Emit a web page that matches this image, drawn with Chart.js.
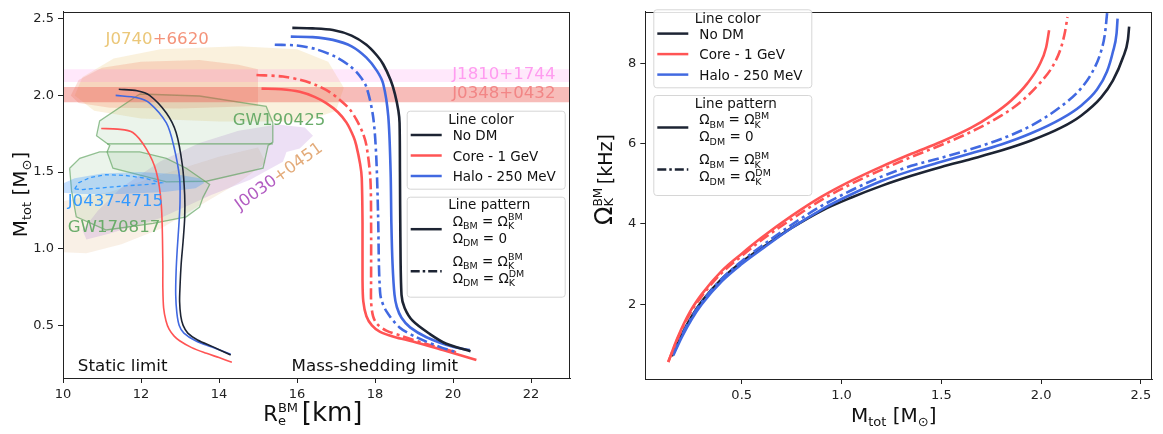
<!DOCTYPE html>
<html>
<head>
<meta charset="utf-8">
<script src="https://cdn.jsdelivr.net/npm/chart.js@4.4.0/dist/chart.umd.min.js"></script>
<style>
  html, body { margin: 0; padding: 0; background: #fff; }
  #wrap { position: relative; width: 1163px; height: 434px; }
  #left { position: absolute; left: 0; top: 0; }
  #right { position: absolute; left: 580px; top: 0; }
</style>
</head>
<body>
<div id="wrap">
  <canvas id="left" width="580" height="434"></canvas>
  <canvas id="right" width="583" height="434"></canvas>
</div>
<script>
// ---------- tick labels ----------
const leftXTicks = [10, 12, 14, 16, 18, 20, 22];
const leftYTicks = [0.5, 1.0, 1.5, 2.0, 2.5];
const rightXTicks = [0.5, 1.0, 1.5, 2.0, 2.5];
const rightYTicks = [2, 4, 6, 8];

// ---------- left panel: M_tot vs R_e (static limit, thin lines) ----------
const noDmStaticR = [11.43, 11.9, 12.22, 12.65, 12.9, 13.06, 13.12, 13.12, 13.08, 13.03, 13.0, 12.99, 13.02, 13.08, 13.2, 13.45, 13.85, 14.3];
const noDmStaticM = [2.04, 2.03, 2.0, 1.885, 1.758, 1.546, 1.35, 1.2, 1.05, 0.9, 0.75, 0.656, 0.56, 0.5, 0.45, 0.405, 0.36, 0.307];
const haloStaticR = [11.35, 11.9, 12.22, 12.65, 12.84, 12.99, 13.0, 12.97, 12.93, 12.9, 12.89, 12.92, 12.98, 13.1, 13.4, 13.8, 14.3];
const haloStaticM = [2.0, 1.985, 1.95, 1.82, 1.67, 1.46, 1.3, 1.15, 1.0, 0.85, 0.7, 0.58, 0.5, 0.45, 0.4, 0.36, 0.312];
const coreStaticR = [10.98, 11.4, 11.79, 12.14, 12.39, 12.52, 12.56, 12.56, 12.58, 12.64, 12.72, 12.85, 12.99, 13.3, 13.68, 14.0, 14.33];
const coreStaticM = [1.784, 1.78, 1.758, 1.65, 1.504, 1.29, 0.91, 0.75, 0.614, 0.53, 0.475, 0.43, 0.40, 0.355, 0.318, 0.29, 0.26];

// ---------- left panel: mass-shedding limit (thick lines) ----------
const noDmShedR = [15.88, 16.4, 16.92, 17.4, 17.78, 18.05, 18.21, 18.4, 18.51, 18.6, 18.63, 18.64, 18.65, 18.68, 18.76, 18.97, 19.4, 19.83, 20.45];
const noDmShedM = [2.44, 2.437, 2.426, 2.39, 2.33, 2.26, 2.203, 2.1, 2.01, 1.9, 1.82, 1.5, 1.1, 0.699, 0.614, 0.529, 0.445, 0.38, 0.332];
const haloShedR = [15.84, 16.4, 16.92, 17.4, 17.78, 18.05, 18.21, 18.34, 18.4, 18.42, 18.45, 18.5, 18.56, 18.68, 18.9, 19.32, 20.0, 20.43];
const haloShedM = [2.383, 2.38, 2.362, 2.32, 2.246, 2.16, 2.076, 1.864, 1.504, 1.165, 0.9, 0.7, 0.62, 0.55, 0.487, 0.423, 0.36, 0.339];
const haloShedDmR = [15.43, 16.0, 16.5, 17.0, 17.35, 17.6, 17.78, 17.95, 18.03, 18.08, 18.1, 18.12, 18.15, 18.29, 18.63, 19.06, 19.66, 20.05];
const haloShedDmM = [2.33, 2.325, 2.3, 2.25, 2.193, 2.13, 2.055, 1.864, 1.61, 1.21, 0.9, 0.763, 0.68, 0.593, 0.487, 0.423, 0.36, 0.328];
const coreShedR = [15.09, 15.6, 16.07, 16.45, 16.75, 17.05, 17.27, 17.45, 17.52, 17.62, 17.66, 17.68, 17.68, 17.7, 17.78, 17.92, 18.12, 18.5, 18.97, 19.74, 20.6];
const coreShedM = [2.044, 2.04, 2.023, 1.99, 1.949, 1.89, 1.822, 1.73, 1.674, 1.55, 1.462, 1.165, 0.8, 0.656, 0.56, 0.5, 0.46, 0.425, 0.395, 0.339, 0.275];
const coreShedDmR = [14.96, 15.64, 16.1, 16.5, 16.85, 17.1, 17.35, 17.52, 17.68, 17.78, 17.88, 17.9, 17.9, 17.9, 17.95, 18.05, 18.29, 18.7, 19.3, 20.15];
const coreShedDmM = [2.133, 2.123, 2.1, 2.066, 2.02, 1.97, 1.91, 1.843, 1.76, 1.674, 1.462, 1.165, 0.8, 0.656, 0.56, 0.51, 0.466, 0.43, 0.38, 0.32];

// ---------- left panel: observational constraints [R, M] ----------
const j0740Outer = [[10.3,2.0],[10.5,2.12],[11.3,2.24],[12.5,2.3],[14.5,2.32],[16,2.3],[16.8,2.22],[17.2,2.05],[17.0,1.9],[16.2,1.83],[14,1.83],[12,1.85],[10.8,1.9],[10.3,2.0]];
const j0740Inner = [[10.2,2.0],[10.4,2.1],[11.0,2.18],[12.0,2.22],[13.5,2.23],[14.5,2.2],[15.0,2.17],[15.0,1.93],[13.0,1.915],[11.2,1.92],[10.4,1.95],[10.2,2.0]];
const j0030Purple = [[10.6,1.06],[11.2,1.1],[12.5,1.2],[13.8,1.35],[14.8,1.45],[15.3,1.52],[15.64,1.567],[15.73,1.631],[16.07,1.653],[16.41,1.737],[16.2,1.79],[15.5,1.81],[14.5,1.77],[13.5,1.69],[12.5,1.57],[11.5,1.4],[10.9,1.25],[10.5,1.12],[10.6,1.06]];
const j0030Tan = [[9.8,0.98],[10.6,0.97],[11.5,1.03],[12.5,1.13],[13.5,1.28],[14.5,1.43],[15.2,1.56],[15.0,1.66],[14.0,1.6],[12.5,1.48],[11.2,1.37],[9.8,1.3],[9.8,0.98]];
const gw190425 = [[11.97,2.009],[10.94,1.833],[10.86,1.737],[11.2,1.674],[11.13,1.631],[11.28,1.525],[12.65,1.436],[13.68,1.44],[15.13,1.525],[15.26,1.674],[15.38,1.695],[15.38,1.822],[15.21,1.928],[13.5,1.996],[11.97,2.009]];
const gw190425Cut = [[11.13,1.684],[15.38,1.684]];
const gw170817 = [[10.17,1.525],[10.43,1.589],[10.94,1.631],[11.97,1.631],[12.65,1.589],[13.16,1.525],[13.76,1.419],[13.59,1.335],[13.5,1.271],[13.16,1.208],[12.31,1.165],[11.11,1.122],[10.34,1.208],[10.22,1.377],[10.17,1.525]];
const j0437Fill = [[9.7,1.39],[10.3,1.46],[11.0,1.49],[12.0,1.5],[12.9,1.485],[13.5,1.46],[13.63,1.43],[13.4,1.395],[12.6,1.37],[11.5,1.357],[10.5,1.357],[9.7,1.37],[9.7,1.39]];
const j0437Dash = [[10.3,1.39],[10.4,1.43],[10.7,1.465],[11.1,1.483],[11.6,1.478],[12.1,1.46],[12.52,1.43],[12.2,1.42],[11.6,1.41],[11.0,1.397],[10.5,1.386],[10.3,1.39]];
const j1810Band = [[10,2.087],[23,2.087],[23,2.17],[10,2.17],[10,2.087]];
const j0348Band = [[10,1.955],[23,1.955],[23,2.055],[10,2.055],[10,1.955]];

// ---------- right panel: Omega_K^BM (kHz) vs M_tot ----------
const noDmOmM = [0.15, 0.2, 0.25, 0.3, 0.4, 0.5, 0.6, 0.75, 0.9, 1.05, 1.2, 1.35, 1.5, 1.65, 1.8, 1.95, 2.1, 2.2, 2.3, 2.36, 2.41, 2.435, 2.441];
const noDmOmW = [0.7, 1.25, 1.7, 2.07, 2.63, 3.05, 3.4, 3.9, 4.33, 4.66, 4.95, 5.2, 5.42, 5.62, 5.83, 6.08, 6.4, 6.7, 7.15, 7.58, 8.15, 8.6, 8.92];
const coreOmM = [0.132, 0.18, 0.24, 0.3, 0.4, 0.5, 0.6, 0.75, 0.9, 1.05, 1.2, 1.35, 1.5, 1.65, 1.75, 1.85, 1.93, 1.99, 2.025, 2.04];
const coreOmW = [0.56, 1.18, 1.8, 2.25, 2.83, 3.26, 3.66, 4.2, 4.68, 5.08, 5.43, 5.75, 6.05, 6.4, 6.7, 7.08, 7.5, 7.95, 8.4, 8.83];
const coreDmOmM = [0.132, 0.18, 0.24, 0.3, 0.4, 0.5, 0.6, 0.75, 0.9, 1.05, 1.2, 1.35, 1.5, 1.65, 1.8, 1.9, 2.0, 2.06, 2.1, 2.12, 2.132];
const coreDmOmW = [0.56, 1.15, 1.76, 2.2, 2.78, 3.2, 3.6, 4.12, 4.6, 5.0, 5.35, 5.67, 5.97, 6.3, 6.7, 7.05, 7.55, 7.95, 8.4, 8.8, 9.16];
const haloOmM = [0.157, 0.2, 0.25, 0.3, 0.4, 0.5, 0.6, 0.75, 0.9, 1.05, 1.2, 1.35, 1.5, 1.65, 1.8, 1.95, 2.1, 2.2, 2.28, 2.33, 2.36, 2.378, 2.383];
const haloOmW = [0.72, 1.18, 1.63, 2.0, 2.57, 3.0, 3.37, 3.9, 4.36, 4.74, 5.07, 5.33, 5.55, 5.76, 5.98, 6.26, 6.62, 6.95, 7.35, 7.8, 8.3, 8.75, 9.12];
const haloDmOmM = [0.157, 0.2, 0.25, 0.3, 0.4, 0.5, 0.6, 0.75, 0.9, 1.05, 1.2, 1.35, 1.5, 1.65, 1.8, 1.95, 2.1, 2.2, 2.26, 2.3, 2.32, 2.331];
const haloDmOmW = [0.75, 1.22, 1.68, 2.05, 2.63, 3.07, 3.45, 3.98, 4.45, 4.84, 5.18, 5.45, 5.65, 5.87, 6.12, 6.45, 6.93, 7.38, 7.82, 8.3, 8.75, 9.28];

// ---------- styling ----------
const FONT = '"DejaVu Sans", sans-serif';
const BLACK = '#1d2433';
const RED = '#ff5454';
const BLUE = '#4169e1';
const DASHDOT = [11, 4, 3, 4];

const pts = (xs, ys) => xs.map((x, i) => ({ x: x, y: ys[i] }));
const polyPts = poly => poly.map(p => ({ x: p[0], y: p[1] }));

function curve(xs, ys, color, width, dashed, monotone) {
  return {
    data: pts(xs, ys), borderColor: color, borderWidth: width,
    borderDash: dashed ? DASHDOT : [], pointRadius: 0,
    tension: 0.3, cubicInterpolationMode: monotone ? 'monotone' : 'default',
    fill: false, order: 0, borderCapStyle: 'butt'
  };
}

function region(poly, fill, stroke, dash, order) {
  return {
    data: polyPts(poly), fill: fill ? 'shape' : false,
    backgroundColor: fill || 'rgba(0,0,0,0)',
    borderColor: stroke || 'rgba(0,0,0,0)', borderWidth: stroke ? 1.3 : 0,
    borderDash: dash || [], pointRadius: 0, tension: 0, order: order, clip: 0
  };
}

// draw text made of runs: [text, size, dy, 'stack'] ; a 'stack' run shares x with the next run
function drawRuns(ctx, runs, x, y, dry) {
  let cx = x;
  for (let i = 0; i < runs.length; i++) {
    const r = runs[i];
    ctx.font = r[1] + 'px ' + FONT;
    if (!dry) ctx.fillText(r[0], cx, y + r[2]);
    let w = ctx.measureText(r[0]).width;
    if (r[3] === 'stack') {
      const n = runs[++i];
      ctx.font = n[1] + 'px ' + FONT;
      if (!dry) ctx.fillText(n[0], cx, y + n[2]);
      w = Math.max(w, ctx.measureText(n[0]).width);
    }
    cx += w;
  }
  return cx - x;
}

function axisCommon(ticksArr, fmt) {
  return {
    type: 'linear',
    afterBuildTicks: s => { s.ticks = ticksArr.map(v => ({ value: v })); },
    grid: { drawOnChartArea: false, drawTicks: true, tickLength: 5, color: '#222', lineWidth: 1 },
    border: { display: true, color: '#222', width: 1 },
    ticks: { color: '#222', font: { family: FONT, size: 13 }, padding: 4, maxRotation: 0, autoSkip: false,
      callback: v => fmt(v) }
  };
}

const framePlugin = {
  id: 'frame',
  afterDraw(chart) {
    const { ctx, chartArea: a } = chart;
    ctx.save();
    ctx.strokeStyle = '#222';
    ctx.lineWidth = 1;
    ctx.strokeRect(Math.round(a.left) + 0.5, Math.round(a.top) + 0.5, Math.round(a.right - a.left) - 1, Math.round(a.bottom - a.top));
    ctx.restore();
  }
};

const omBM = [['Ω', 13.5, 0], ['BM', 9.5, 3.5], [' = ', 13.5, 0], ['Ω', 13.5, 0], ['K', 9.5, 3.5, 'stack'], ['BM', 9.5, -5.5]];
const omDM0 = [['Ω', 13.5, 0], ['DM', 9.5, 3.5], [' = 0', 13.5, 0]];
const omDMK = [['Ω', 13.5, 0], ['DM', 9.5, 3.5], [' = ', 13.5, 0], ['Ω', 13.5, 0], ['K', 9.5, 3.5, 'stack'], ['DM', 9.5, -5.5]];
const colorEntries = [['No DM', BLACK], ['Core - 1 GeV', RED], ['Halo - 250 MeV', BLUE]];

function legendPlugin(bx, by1, by2) {
  return {
    id: 'customLegend',
    afterDraw(chart) {
      const ctx = chart.ctx;
      const w = 158;
      ctx.save();
      const box = (y, h) => {
        ctx.beginPath();
        ctx.roundRect(bx + 0.5, y + 0.5, w, h, 3);
        ctx.fillStyle = 'rgba(255,255,255,0.85)';
        ctx.fill();
        ctx.strokeStyle = '#d6d6d6';
        ctx.lineWidth = 1;
        ctx.stroke();
      };
      const sample = (y, color, dashed) => {
        ctx.beginPath();
        ctx.setLineDash(dashed ? [9, 3, 2.5, 3] : []);
        ctx.strokeStyle = color;
        ctx.lineWidth = 2.5;
        ctx.moveTo(bx + 4, y);
        ctx.lineTo(bx + 35, y);
        ctx.stroke();
        ctx.setLineDash([]);
      };
      ctx.textBaseline = 'alphabetic';
      ctx.textAlign = 'left';
      // box 1: line colour
      box(by1, 78);
      ctx.fillStyle = '#111';
      ctx.font = '13.5px ' + FONT;
      ctx.fillText('Line color', bx + 41.5, by1 + 13.5);
      colorEntries.forEach((e, i) => {
        const ly = by1 + 24.3 + i * 20.5;
        sample(ly, e[1], false);
        ctx.fillStyle = '#111';
        ctx.font = '13.5px ' + FONT;
        ctx.fillText(e[0], bx + 46, ly + 5);
      });
      // box 2: line pattern
      box(by2, 100);
      ctx.fillStyle = '#111';
      ctx.font = '13.5px ' + FONT;
      ctx.fillText('Line pattern', bx + 41.5, by2 + 12.5);
      sample(by2 + 32.5, BLACK, false);
      ctx.fillStyle = '#111';
      drawRuns(ctx, omBM, bx + 46, by2 + 29);
      drawRuns(ctx, omDM0, bx + 46, by2 + 46);
      sample(by2 + 74.5, BLACK, true);
      ctx.fillStyle = '#111';
      drawRuns(ctx, omBM, bx + 46, by2 + 69);
      drawRuns(ctx, omDMK, bx + 46, by2 + 86);
      ctx.restore();
    }
  };
}

// labels of the constraints: [text pieces [text, colour], R, M, angle(deg)]
const leftLabels = [
  [[['J0740', '#ebc779'], ['+6620', '#f4937a']], 11.09, 2.335, 0],
  [[['J1810+1744', '#ff9cf0']], 19.98, 2.108, 0],
  [[['J0348+0432', '#f28686']], 19.98, 1.98, 0],
  [[['GW190425', '#6aac6a']], 14.35, 1.807, 0],
  [[['J0437-4715', '#3399ff']], 10.12, 1.281, 0],
  [[['GW170817', '#6aac6a']], 10.12, 1.106, 0],
  [[['J0030', '#b25cc2'], ['+0451', '#e3ab7a']], 14.53, 1.25, -35.7],
  [[['Static limit', '#111']], 10.38, 0.2, 0],
  [[['Mass-shedding limit', '#111']], 15.86, 0.2, 0]
];

const leftTextPlugin = {
  id: 'leftText',
  afterDraw(chart) {
    const { ctx, scales } = chart;
    ctx.save();
    ctx.textBaseline = 'alphabetic';
    ctx.textAlign = 'left';
    leftLabels.forEach(l => {
      const px = scales.x.getPixelForValue(l[1]);
      const py = scales.y.getPixelForValue(l[2]);
      const size = l[0][0][1] === '#111' ? 16.7 : 16.6;
      ctx.save();
      ctx.translate(px, py);
      ctx.rotate(l[3] * Math.PI / 180);
      ctx.font = size + 'px ' + FONT;
      let cx = 0;
      l[0].forEach(p => {
        ctx.fillStyle = p[1];
        ctx.fillText(p[0], cx, 0);
        cx += ctx.measureText(p[0]).width;
      });
      ctx.restore();
    });
    // axis titles
    ctx.fillStyle = '#111';
    drawRuns(ctx, [['R', 21, 0], ['e', 13, 4, 'stack'], ['BM', 13, -9], [' ', 12, 0], ['[km]', 26, 0]], 263.3, 421);
    const mRuns = [['M', 20, 0], ['tot', 13, 4], [' ', 20, 0], ['[M', 20, 0], ['⊙', 13, 4], [']', 20, 0]];
    const wm = drawRuns(ctx, mRuns, 0, 0, true);
    ctx.translate(26.7, 194.5);
    ctx.rotate(-Math.PI / 2);
    drawRuns(ctx, mRuns, -wm / 2, 0);
    ctx.restore();
  }
};

const rightTextPlugin = {
  id: 'rightText',
  afterDraw(chart) {
    const ctx = chart.ctx;
    ctx.save();
    ctx.fillStyle = '#111';
    ctx.textBaseline = 'alphabetic';
    ctx.textAlign = 'left';
    const mRuns = [['M', 20, 0], ['tot', 13, 4], [' ', 20, 0], ['[M', 20, 0], ['⊙', 13, 4], [']', 20, 0]];
    drawRuns(ctx, mRuns, 851 - 580, 421.7);
    const oRuns = [['Ω', 24, 0], ['K', 13, 1, 'stack'], ['BM', 12, -10], [' ', 12, 0], ['[kHz]', 19, 0]];
    const wo = drawRuns(ctx, oRuns, 0, 0, true);
    ctx.translate(611.7 - 580, 179.5);
    ctx.rotate(-Math.PI / 2);
    drawRuns(ctx, oRuns, -wo / 2, 0);
    ctx.restore();
  }
};

// ---------- left chart ----------
const leftX = axisCommon(leftXTicks, v => String(v));
leftX.min = 10; leftX.max = 23;
leftX.afterFit = s => { s.height = 56; };
const leftY = axisCommon(leftYTicks, v => v.toFixed(1));
leftY.min = 0.157; leftY.max = 2.545;
leftY.afterFit = s => { s.width = 63; };

new Chart(document.getElementById('left'), {
  type: 'line',
  data: {
    datasets: [
      curve(noDmStaticR, noDmStaticM, BLACK, 1.6, false),
      curve(haloStaticR, haloStaticM, BLUE, 1.6, false),
      curve(coreStaticR, coreStaticM, RED, 1.6, false),
      curve(noDmShedR, noDmShedM, BLACK, 2.6, false),
      curve(haloShedR, haloShedM, BLUE, 2.6, false),
      curve(haloShedDmR, haloShedDmM, BLUE, 2.6, true),
      curve(coreShedR, coreShedM, RED, 2.6, false),
      curve(coreShedDmR, coreShedDmM, RED, 2.6, true),
      region(j0437Dash, null, '#3399ff', [4, 3], 1),
      region(j1810Band, 'rgba(255,102,225,0.15)', null, null, 2),
      region(j0348Band, 'rgba(235,80,70,0.38)', null, null, 2),
      region(j0437Fill, 'rgba(60,150,255,0.3)', null, null, 3),
      region(gw170817, 'rgba(120,180,120,0.15)', 'rgba(90,160,90,0.65)', null, 4),
      region(gw190425Cut, null, 'rgba(90,160,90,0.75)', null, 4),
      region(gw190425, 'rgba(120,180,120,0.15)', 'rgba(90,160,90,0.65)', null, 4),
      region(j0030Purple, 'rgba(185,130,215,0.25)', null, null, 5),
      region(j0030Tan, 'rgba(225,180,130,0.2)', null, null, 5),
      region(j0740Inner, 'rgba(240,130,100,0.25)', null, null, 6),
      region(j0740Outer, 'rgba(235,200,120,0.25)', null, null, 7)
    ]
  },
  options: {
    responsive: false, animation: false, events: [],
    layout: { padding: { left: 0, right: 10, top: 3, bottom: 0 } },
    scales: { x: leftX, y: leftY },
    plugins: { legend: { display: false }, tooltip: { enabled: false } }
  },
  plugins: [framePlugin, leftTextPlugin, legendPlugin(406.7, 110.7, 196.7)]
});

// ---------- right chart ----------
const rightX = axisCommon(rightXTicks, v => v.toFixed(1));
rightX.min = 0.017; rightX.max = 2.559;
rightX.afterFit = s => { s.height = 55; };
const rightY = axisCommon(rightYTicks, v => String(v));
rightY.min = 0.134; rightY.max = 9.29;
rightY.afterFit = s => { s.width = 65.3; };

new Chart(document.getElementById('right'), {
  type: 'line',
  data: {
    datasets: [
      curve(coreOmM, coreOmW, RED, 2.6, false, true),
      curve(coreDmOmM, coreDmOmW, RED, 2.6, true, true),
      curve(haloDmOmM, haloDmOmW, BLUE, 2.6, true, true),
      curve(haloOmM, haloOmW, BLUE, 2.6, false, true),
      curve(noDmOmM, noDmOmW, BLACK, 2.6, false, true)
    ]
  },
  options: {
    responsive: false, animation: false, events: [],
    layout: { padding: { left: 0, right: 10.3, top: 3, bottom: 0 } },
    scales: { x: rightX, y: rightY },
    plugins: { legend: { display: false }, tooltip: { enabled: false } }
  },
  plugins: [framePlugin, rightTextPlugin, legendPlugin(653.3 - 580, 9.3, 95)]
});
</script>
</body>
</html>
